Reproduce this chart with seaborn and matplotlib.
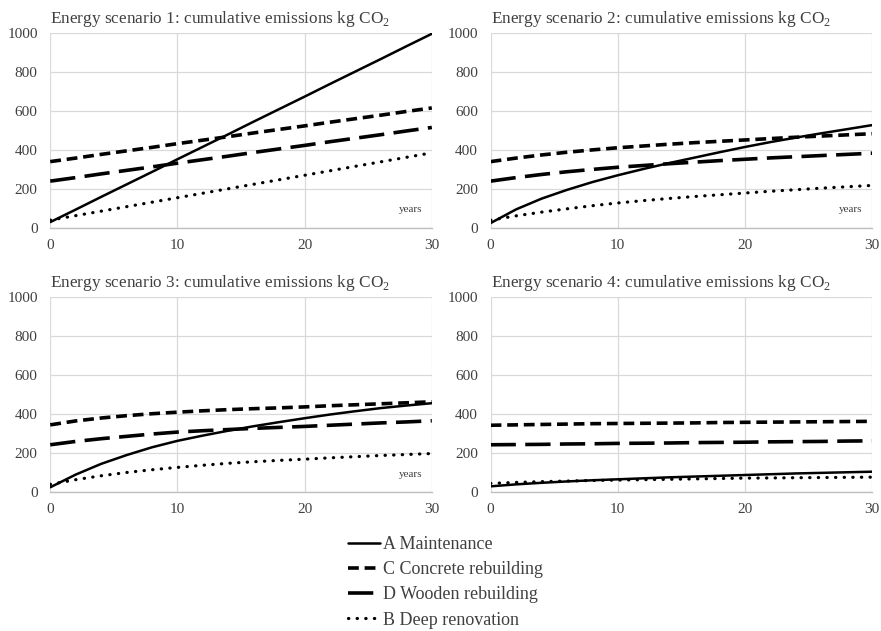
import numpy as np
import pandas as pd
import matplotlib
matplotlib.use('Agg')
import matplotlib.pyplot as plt
import seaborn as sns
from matplotlib.lines import Line2D

# ============================================================================
# Data
# ============================================================================

years = [0, 2, 4, 6, 8, 10, 12, 14, 16, 18, 20, 22, 24, 26, 28, 30]

series_names = ['A Maintenance', 'C Concrete rebuilding',
                'D Wooden rebuilding', 'B Deep renovation']

# Energy scenario 1
s1_maintenance = [30, 94, 159, 223, 287, 352, 416, 480, 545, 609, 673, 738, 802, 866, 931, 995]
s1_concrete = [340, 358, 377, 395, 413, 432, 450, 468, 487, 505, 523, 542, 560, 578, 597, 615]
s1_wooden = [240, 258, 277, 295, 313, 332, 350, 368, 387, 405, 423, 442, 460, 478, 497, 515]
s1_deep = [40, 63, 86, 109, 132, 155, 178, 201, 224, 247, 270, 293, 316, 339, 362, 385]

# Energy scenario 2
s2_maintenance = [25, 95, 150, 195, 235, 270, 302, 332, 360, 388, 415, 440, 463, 485, 506, 527]
s2_concrete = [340, 358, 374, 388, 400, 411, 420, 429, 437, 444, 451, 458, 465, 471, 477, 483]
s2_wooden = [240, 258, 274, 288, 300, 311, 320, 329, 337, 345, 352, 359, 365, 371, 377, 383]
s2_deep = [40, 62, 81, 98, 114, 128, 140, 151, 161, 170, 179, 188, 196, 204, 211, 218]

# Energy scenario 3
s3_maintenance = [25, 90, 145, 190, 230, 263, 290, 315, 338, 359, 379, 398, 415, 431, 444, 456]
s3_concrete = [345, 365, 380, 392, 402, 410, 417, 423, 428, 432, 437, 443, 448, 453, 458, 463]
s3_wooden = [243, 260, 274, 286, 298, 308, 315, 321, 327, 332, 337, 343, 349, 355, 360, 366]
s3_deep = [40, 64, 84, 101, 115, 127, 138, 148, 156, 163, 169, 176, 182, 188, 193, 198]

# Energy scenario 4
s4_maintenance = [30, 40, 48, 55, 61, 66, 71, 76, 80, 84, 88, 92, 96, 99, 102, 105]
s4_concrete = [343, 345, 347, 349, 351, 352, 353, 354, 355, 357, 358, 359, 360, 361, 362, 363]
s4_wooden = [243, 244, 245, 247, 248, 250, 251, 252, 254, 255, 256, 258, 259, 260, 262, 263]
s4_deep = [45, 50, 54, 57, 60, 62, 64, 66, 68, 70, 72, 73, 74, 75, 76, 77]

scenarios = [
    (s1_maintenance, s1_concrete, s1_wooden, s1_deep),
    (s2_maintenance, s2_concrete, s2_wooden, s2_deep),
    (s3_maintenance, s3_concrete, s3_wooden, s3_deep),
    (s4_maintenance, s4_concrete, s4_wooden, s4_deep),
]
show_years = [True, True, True, False]

# ============================================================================
# Styles
# ============================================================================

sns.set_style('white')
plt.rcParams['font.family'] = ['Liberation Serif', 'DejaVu Serif']
plt.rcParams['mathtext.fontset'] = 'custom'
plt.rcParams['mathtext.rm'] = 'Liberation Serif'
text_color = '#404040'

line_styles = {
    'A Maintenance': dict(linestyle='-', linewidth=1.8),
    'C Concrete rebuilding': dict(linestyle=(0, (3.0, 1.6)), linewidth=2.6),
    'D Wooden rebuilding': dict(linestyle=(0, (7.0, 2.6)), linewidth=2.6),
    'B Deep renovation': dict(linestyle=(0, (0.1, 2.6)), linewidth=2.3,
                              dash_capstyle='round'),
}

fig, axes = plt.subplots(2, 2, figsize=(8.81, 6.31), dpi=100)
fig.subplots_adjust(left=0.057, right=0.99, top=0.948, bottom=0.22,
                    wspace=0.154, hspace=0.354)

for i, ax in enumerate(axes.flat):
    vals = scenarios[i]
    for name, v in zip(series_names, vals):
        sns.lineplot(x=years, y=v, ax=ax, color='black', legend=False,
                     **line_styles[name])
    ax.set_xlim(0, 30)
    ax.set_ylim(0, 1000)
    ax.set_xticks([0, 10, 20, 30])
    ax.set_yticks([0, 200, 400, 600, 800, 1000])
    ax.grid(True, color='#d9d9d9', linewidth=0.9)
    ax.set_axisbelow(True)
    for sp in ['left', 'top', 'right']:
        ax.spines[sp].set_visible(False)
    ax.spines['bottom'].set_color('#bfbfbf')
    ax.spines['bottom'].set_linewidth(1.0)
    ax.tick_params(axis='both', length=0, labelsize=11, colors=text_color)
    ax.tick_params(axis='y', pad=9)
    ax.tick_params(axis='x', pad=8)
    ax.set_xlabel('')
    ax.set_ylabel('')
    ax.set_title(f'Energy scenario {i + 1}: cumulative emissions kg CO$_\\mathregular{{2}}$',
                 loc='left', fontsize=12.4, color=text_color, pad=7)
    if show_years[i]:
        ax.text(0.975, 0.07, 'years', transform=ax.transAxes, ha='right',
                va='bottom', fontsize=8, color=text_color)

handles = [Line2D([0], [0], color='black', **line_styles[n]) for n in series_names]
leg = fig.legend(handles, series_names, loc='upper center',
                 bbox_to_anchor=(0.506, 0.176), frameon=False, fontsize=13,
                 handlelength=1.75, handletextpad=0.2, labelspacing=0.45)
for t in leg.get_texts():
    t.set_color(text_color)

fig.savefig('out.png', dpi=100, facecolor='white')
